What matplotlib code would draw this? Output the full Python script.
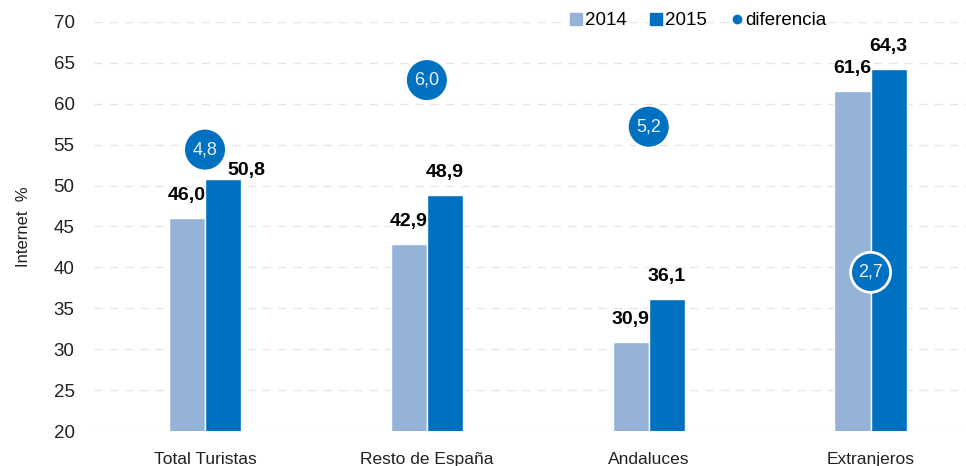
import matplotlib.pyplot as plt
import numpy as np
from matplotlib.lines import Line2D

categories = ["Total Turistas", "Resto de España", "Andaluces", "Extranjeros"]
v2014 = [46.0, 42.9, 30.9, 61.6]
v2015 = [50.8, 48.9, 36.1, 64.3]
diferencia = [4.8, 6.0, 5.2, 2.7]
# height at which each "diferencia" bubble sits
dif_y = [54.4, 62.9, 57.2, 39.4]

c14 = "#95b3d7"
c15 = "#0070c0"

plt.rcParams["font.family"] = ["Liberation Sans", "DejaVu Sans"]

fig = plt.figure(figsize=(9.66, 4.66), dpi=100)
ax = fig.add_axes([0.0974, 0.0751, 0.9026, 0.8777])

x = np.arange(len(categories))
w = 0.163
off = 0.0815

ax.bar(x - off, v2014, w, color=c14, edgecolor="white", linewidth=1, label="2014", zorder=2)
ax.bar(x + off, v2015, w, color=c15, edgecolor="white", linewidth=1, label="2015", zorder=2)

def fmt(v):
    return f"{v:.1f}".replace(".", ",")

for i in range(len(categories)):
    ax.annotate(fmt(v2014[i]), (x[i] - off, v2014[i]), xytext=(0, 10),
                textcoords="offset points", ha="center", va="bottom",
                fontsize=14, fontweight="bold", zorder=4)
    dx = 17 if i == 0 else 0
    dy = 0 if i == 0 else 10
    ax.annotate(fmt(v2015[i]), (x[i] + off, v2015[i]), xytext=(dx, dy),
                textcoords="offset points", ha="center", va="bottom",
                fontsize=14, fontweight="bold", zorder=4)

edges = ["none", "none", "none", "white"]
ax.scatter(x, dif_y, s=830, color=c15, edgecolors=edges, linewidths=2,
           zorder=5, label="diferencia")
for i in range(len(categories)):
    ax.text(x[i], dif_y[i], fmt(diferencia[i]), ha="center", va="center",
            color="#e8f0fa", fontsize=13, zorder=6)

ax.set_ylim(20, 70)
ax.set_xlim(-0.5, 3.43)
ax.set_yticks(range(20, 71, 5))
ax.set_xticks(x)
ax.set_xticklabels(categories, fontsize=12.5)
ax.tick_params(axis="y", labelsize=13.5, length=0, pad=14, colors="#222222")
ax.tick_params(axis="x", length=0, pad=15, colors="#222222")
ax.set_ylabel("Internet  %", fontsize=12, color="#222222", labelpad=16)
ax.yaxis.grid(True, color="#e6e6e6", linestyle=(0, (6, 5)), linewidth=1, zorder=0)
ax.set_axisbelow(True)
for s in ax.spines.values():
    s.set_visible(False)

handles = [
    Line2D([], [], marker="s", linestyle="none", color=c14, markersize=8),
    Line2D([], [], marker="s", linestyle="none", color=c15, markersize=8),
    Line2D([], [], marker="o", linestyle="none", color=c15, markersize=6),
]
fig.legend(handles, ["2014", "2015", "diferencia"], loc="upper left",
           bbox_to_anchor=(0.578, 1.0), ncol=3, frameon=False, fontsize=13.5,
           handlelength=0.6, handletextpad=0.15, columnspacing=1.3,
           borderaxespad=0.25)

fig.savefig("out.png", dpi=100)
